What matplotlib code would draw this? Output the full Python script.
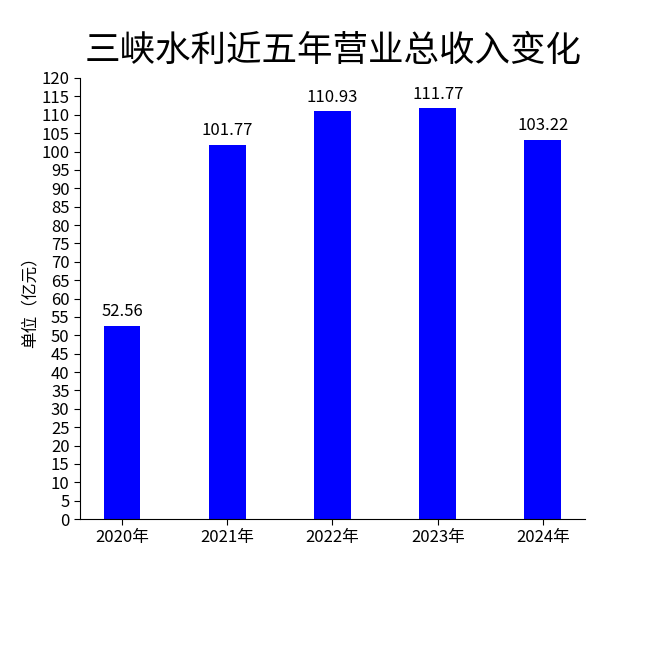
import matplotlib
matplotlib.use('Agg')
import matplotlib.pyplot as plt
import numpy as np

years = ['2020年', '2021年', '2022年', '2023年', '2024年']
revenue = [52.56, 101.77, 110.93, 111.77, 103.22]
yticks = list(range(0, 121, 5))

plt.rcParams['font.family'] = ['Liberation Sans Narrow', 'Noto Sans CJK SC', 'DejaVu Sans']

fig = plt.figure(figsize=(6.5, 6.5), dpi=100)
ax = fig.add_axes([0.123, 0.2015, 0.777, 0.6785])

x = np.arange(len(years))
bars = ax.bar(x, revenue, width=0.35, color='#0000FF')
for xi, v in zip(x, revenue):
    ax.text(xi, v + 1.5, f'{v:.2f}', ha='center', va='bottom', fontsize=12)

ax.set_xlim(-0.4, 4.4)
ax.set_ylim(0, 120)
ax.set_yticks(yticks)
ax.set_xticks(x)
ax.set_xticklabels(years)
ax.tick_params(labelsize=12, length=4)
ax.spines[['right', 'top']].set_visible(False)
ax.set_ylabel('单位（亿元）', fontsize=12, labelpad=2)

fig.text(0.512, 0.922, '三峡水利近五年营业总收入变化', ha='center', va='center', fontsize=25.6)

plt.savefig('out.png', dpi=100)
